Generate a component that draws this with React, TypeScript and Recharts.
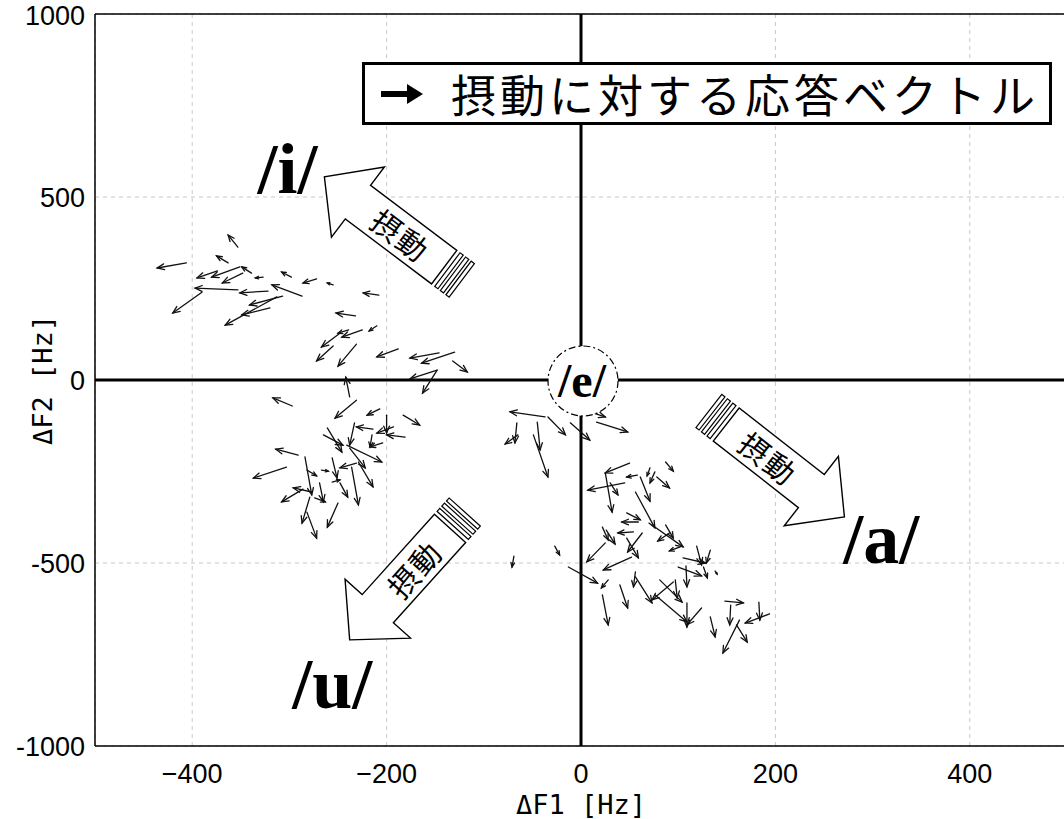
import React from 'react';
import { ScatterChart, XAxis, YAxis, CartesianGrid, ReferenceLine, ReferenceDot } from 'recharts';

// each response vector: [tail ΔF1, tail ΔF2, head ΔF1, head ΔF2] in Hz
type Vec = [number, number, number, number];

const xTicks = [-400, -200, 0, 200, 400];
const yTicks = [-1000, -500, 0, 500, 1000];

// vectors around the /i/ side (upper left)
const iVectors: Vec[] = [
  [-406, 320, -436, 306], [-353, 363, -363, 396], [-363, 320, -375, 339], [-374, 298, -395, 279],
  [-351, 309, -380, 281], [-339, 292, -349, 309], [-348, 292, -369, 265], [-327, 281, -335, 279],
  [-298, 281, -308, 295], [-272, 276, -286, 265], [-255, 260, -261, 265], [-353, 246, -397, 251],
  [-322, 243, -351, 238], [-287, 229, -318, 260], [-307, 229, -341, 205], [-320, 197, -349, 178],
  [-390, 240, -420, 183], [-313, 227, -366, 150], [-248, 128, -267, 90], [-255, 93, -272, 52],
  [-232, 175, -252, 183], [-239, 137, -250, 128], [-225, 137, -246, 117], [-210, 148, -218, 134],
  [-231, 98, -250, 38], [-188, 85, -210, 63], [-146, 74, -176, 60], [-130, 76, -164, 46],
  [-132, 52, -117, 22], [-148, 27, -176, 3], [-148, 27, -163, -36], [-208, 232, -224, 238],
];

// vectors around the /u/ side (lower left)
const uVectors: Vec[] = [
  [-238, -46, -242, 8], [-297, -71, -317, -49], [-231, -55, -253, -104], [-207, -79, -220, -96],
  [-183, -96, -166, -123], [-233, -117, -238, -178], [-214, -134, -231, -128], [-200, -96, -200, -145],
  [-193, -128, -210, -145], [-181, -156, -200, -150], [-215, -150, -217, -183], [-204, -172, -217, -183],
  [-261, -131, -246, -197], [-265, -150, -245, -178], [-241, -178, -205, -224], [-238, -186, -222, -240],
  [-229, -224, -214, -292], [-291, -205, -314, -189], [-303, -238, -337, -268], [-256, -213, -251, -268],
  [-231, -227, -248, -240], [-284, -210, -277, -314], [-282, -246, -272, -262], [-269, -281, -265, -333],
  [-236, -238, -229, -341], [-248, -281, -240, -320], [-286, -298, -308, -333], [-279, -320, -287, -391],
  [-282, -361, -272, -432], [-250, -336, -261, -402], [-256, -279, -248, -273], [-267, -246, -260, -249],
  [-277, -306, -296, -295], [-274, -322, -263, -333],
];

// vectors just below /e/
const eVectors: Vec[] = [
  [-37, -101, -73, -87], [-34, -101, -16, -150], [-11, -117, 9, -164], [9, -87, 25, -101],
  [16, -115, 48, -142], [-66, -117, -68, -172], [-65, -150, -78, -175], [-45, -115, -42, -191],
  [-49, -150, -34, -265], [-69, -481, -71, -511], [-27, -454, -22, -478], [-13, -511, 17, -555],
];

// vectors around the /a/ side (lower right)
const aVectors: Vec[] = [
  [50, -227, 25, -254], [25, -254, 32, -361], [30, -281, 38, -314], [45, -281, 7, -301],
  [58, -260, 47, -265], [71, -240, 68, -262], [76, -251, 71, -281], [78, -265, 91, -295],
  [87, -224, 95, -249], [61, -265, 71, -331], [56, -306, 76, -404], [47, -363, 61, -382],
  [59, -388, 42, -388], [54, -415, 38, -418], [63, -418, 48, -470], [47, -432, 59, -486],
  [73, -396, 105, -456], [87, -396, 95, -432], [91, -418, 79, -440], [102, -456, 91, -467],
  [22, -402, 28, -437], [26, -410, 35, -448], [25, -445, 6, -497], [52, -484, 23, -519],
  [28, -546, 21, -568], [22, -587, 28, -669], [40, -560, 48, -623], [56, -524, 54, -565],
  [56, -538, 73, -609], [95, -552, 73, -601], [81, -546, 104, -607], [97, -546, 99, -596],
  [76, -587, 109, -661], [109, -609, 109, -675], [124, -623, 109, -669], [105, -486, 128, -500],
  [119, -454, 124, -505], [133, -465, 129, -500], [100, -511, 124, -535], [108, -508, 109, -565],
  [126, -511, 130, -541], [138, -522, 140, -530], [133, -647, 138, -702], [148, -604, 167, -609],
  [154, -615, 153, -669], [163, -656, 146, -746], [160, -669, 171, -716], [183, -607, 184, -656],
  [194, -639, 169, -664],
];

const allVectors = [...iVectors, ...uVectors, ...eVectors, ...aVectors];

// vowel targets
const vowels = [
  { text: '/i/', f1: -302, f2: 511 },
  { text: '/a/', f1: 309, f2: -500 },
  { text: '/u/', f1: -256, f2: -896 },
];

// perturbation cue arrows: tip position (Hz) and pointing angle (deg, screen)
const cues = [
  { f1: -264, f2: 555, angle: -143, flipText: true },
  { f1: 271, f2: -374, angle: 38, flipText: false },
  { f1: -238, f2: -710, angle: 132, flipText: true },
];

const tickFont = 'Liberation Sans, Arial, sans-serif';
const titleFont = 'DejaVu Sans Mono, monospace';

const Quiver = (p: any) => {
  const { x1, y1, x2, y2 } = p;
  if ([x1, y1, x2, y2].some((v) => typeof v !== 'number' || isNaN(v))) return <g />;
  const dx = x2 - x1;
  const dy = y2 - y1;
  const len = Math.hypot(dx, dy) || 1;
  const ux = dx / len;
  const uy = dy / len;
  const h = Math.min(7, len * 0.4);
  const w = h * 0.42;
  const bx = x2 - ux * h;
  const by = y2 - uy * h;
  return (
    <g stroke="#111" strokeWidth={1.3} fill="none" strokeLinecap="round">
      <line x1={x1} y1={y1} x2={x2} y2={y2} />
      <path d={`M${bx - uy * w},${by + ux * w} L${x2},${y2} L${bx + uy * w},${by - ux * w}`} />
    </g>
  );
};

// hollow block arrow with three end stripes, tip at (cx, cy)
const CueArrow = ({ cx, cy, angle, flipText }: any) => {
  if (typeof cx !== 'number' || typeof cy !== 'number') return <g />;
  const body = 'M0,0 L-42,-44 L-42,-21 L-150,-21 L-150,21 L-42,21 L-42,44 Z';
  return (
    <g transform={`translate(${cx},${cy}) rotate(${angle})`}>
      <path d={body} fill="#fff" stroke="#000" strokeWidth={1.4} strokeLinejoin="miter" />
      {[154, 161, 168].map((u) => (
        <rect key={u} x={-u - 4} y={-21} width={4} height={42} fill="#fff" stroke="#000" strokeWidth={1.2} />
      ))}
      <text
        x={0}
        y={0}
        transform={`translate(-96,0) rotate(${flipText ? 180 : 0})`}
        textAnchor="middle"
        dominantBaseline="central"
        fontFamily="Noto Sans CJK JP, sans-serif"
        fontSize={30}
        letterSpacing={2}
        fill="#000"
      >
        摂動
      </text>
    </g>
  );
};

const VowelLabel = ({ cx, cy, text }: any) => (
  <text x={cx} y={cy} textAnchor="middle" fontFamily="Liberation Serif, serif" fontWeight="bold" fontSize={72} fill="#000">
    {text}
  </text>
);

const EMark = ({ cx, cy }: any) => (
  <g>
    <circle cx={cx + 2} cy={cy + 1} r={35} fill="#fff" stroke="#000" strokeWidth={1.2} strokeDasharray="7 3 2 3" />
    <text x={cx + 1} y={cy + 17} textAnchor="middle" fontFamily="Liberation Serif, serif" fontWeight="bold" fontSize={48} fill="#000">
      /e/
    </text>
  </g>
);

const XTitle = ({ viewBox }: any) => (
  <text x={viewBox.x + viewBox.width / 2} y={viewBox.y + 68} textAnchor="middle" fontFamily={titleFont} fontSize={27} fill="#000">
    ΔF1 [Hz]
  </text>
);

const YTitle = ({ viewBox }: any) => {
  const cx = 42;
  const cy = viewBox.y + viewBox.height / 2;
  return (
    <text x={cx} y={cy} transform={`rotate(-90 ${cx} ${cy})`} textAnchor="middle" dominantBaseline="central" fontFamily={titleFont} fontSize={27} fill="#000">
      ΔF2 [Hz]
    </text>
  );
};

export default function App() {
  return (
    <div style={{ position: 'absolute', left: 0, top: 0, width: 1064, height: 819, overflow: 'hidden', background: '#fff' }}>
      <ScatterChart width={1075} height={819} margin={{ top: 14, right: 8, bottom: 0, left: 0 }}>
        <CartesianGrid stroke="#c8c8c8" strokeDasharray="4 4" />
        <XAxis
          type="number"
          dataKey="x"
          domain={[-500, 500]}
          ticks={xTicks}
          allowDataOverflow
          height={73}
          tickLine={false}
          tickMargin={12}
          axisLine={{ stroke: '#000', strokeWidth: 1.5 }}
          tick={{ fontSize: 27, fill: '#000', fontFamily: tickFont }}
          tickFormatter={(v: number) => (v < 0 ? `\u2212${-v}` : `${v}`)}
          label={(p: any) => <XTitle {...p} />}
        />
        <YAxis
          type="number"
          dataKey="y"
          domain={[-1000, 1000]}
          ticks={yTicks}
          allowDataOverflow
          width={95}
          tickLine={false}
          tickMargin={4}
          axisLine={{ stroke: '#000', strokeWidth: 1.5 }}
          tick={{ fontSize: 27, fill: '#000', fontFamily: tickFont }}
          label={(p: any) => <YTitle {...p} />}
        />
        <ReferenceLine y={1000} stroke="#000" strokeWidth={1.5} />
        <ReferenceLine x={0} stroke="#000" strokeWidth={3} />
        <ReferenceLine y={0} stroke="#000" strokeWidth={3} />
        {cues.map((c, i) => (
          <ReferenceDot
            key={`cue${i}`}
            x={c.f1}
            y={c.f2}
            ifOverflow="visible"
            shape={(p: any) => <CueArrow cx={p.cx} cy={p.cy} angle={c.angle} flipText={c.flipText} />}
          />
        ))}
        <ReferenceDot x={0} y={0} ifOverflow="visible" shape={(p: any) => <EMark cx={p.cx} cy={p.cy} />} />
        {allVectors.map((v, i) => (
          <ReferenceLine
            key={`v${i}`}
            segment={[{ x: v[0], y: v[1] }, { x: v[2], y: v[3] }]}
            ifOverflow="visible"
            shape={Quiver}
          />
        ))}
        {vowels.map((v) => (
          <ReferenceDot
            key={v.text}
            x={v.f1}
            y={v.f2}
            ifOverflow="visible"
            shape={(p: any) => <VowelLabel cx={p.cx} cy={p.cy} text={v.text} />}
          />
        ))}
      </ScatterChart>
      <div
        style={{
          position: 'absolute',
          left: 362,
          top: 62,
          width: 684,
          height: 57,
          border: '3px solid #000',
          background: '#fff',
          display: 'flex',
          alignItems: 'center',
          fontFamily: 'Noto Sans CJK JP, sans-serif',
          fontSize: 45,
          letterSpacing: 4,
          color: '#000',
          whiteSpace: 'nowrap',
        }}
      >
        <svg width={62} height={30} style={{ marginLeft: 14, marginRight: 10 }}>
          <line x1={2} y1={15} x2={32} y2={15} stroke="#000" strokeWidth={6} />
          <path d="M28,5 L44,15 L28,25 Z" fill="#000" />
        </svg>
        <span style={{ lineHeight: 1 }}>摂動に対する応答ベクトル</span>
      </div>
    </div>
  );
}
